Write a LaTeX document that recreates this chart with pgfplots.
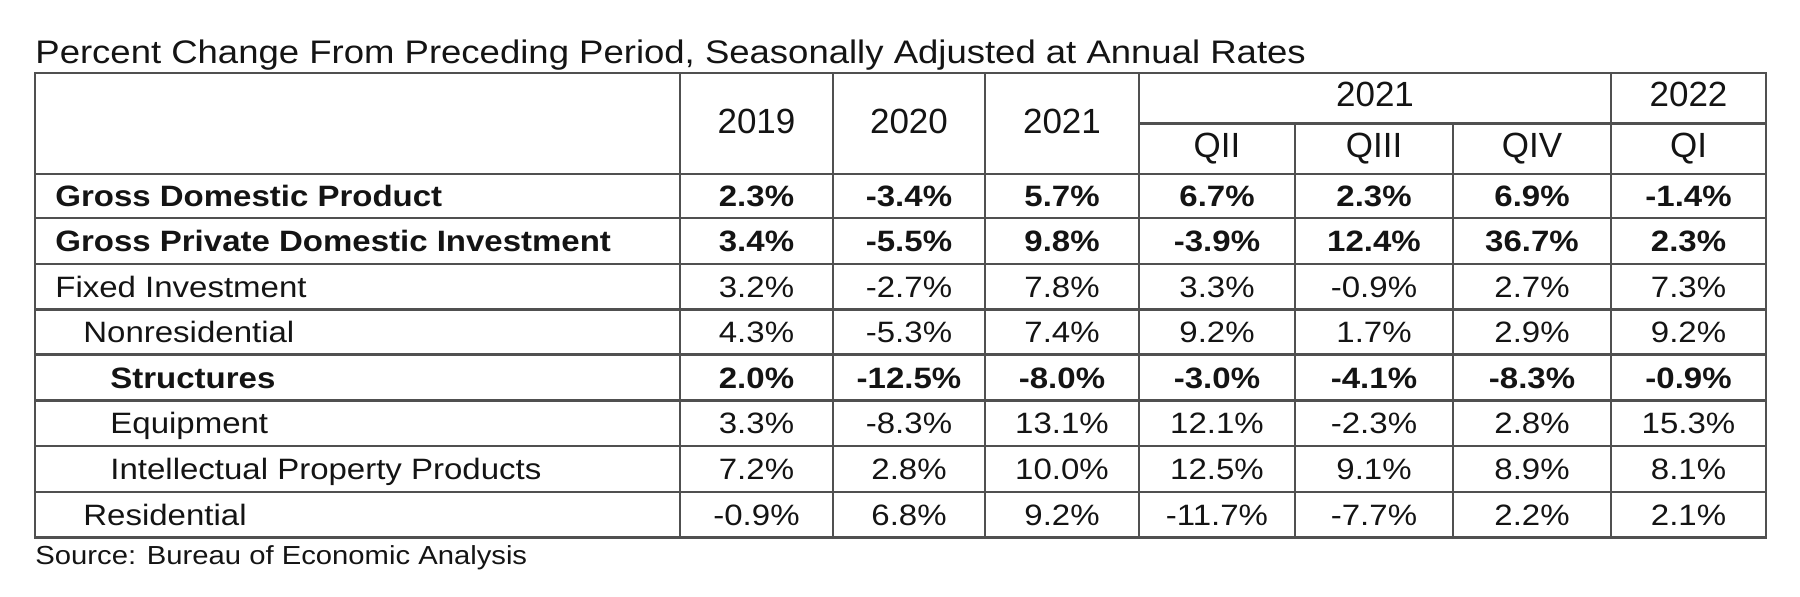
\documentclass[border=0pt]{standalone}
\usepackage{pgfplots}
\pgfplotsset{compat=1.18}
\usepackage{pgfplotstable}
\usepackage{fontspec}
\setmainfont[FakeStretch=1.12]{Liberation Sans}
\newfontfamily\headfam{Liberation Sans}

\definecolor{gridc}{RGB}{80,80,80}
\definecolor{txtc}{RGB}{20,20,20}

\newcommand{\bodyfont}{\fontsize{14.73}{18}\selectfont}
\newcommand{\headfont}{\headfam\fontsize{17.5}{21}\selectfont}
\newcommand{\titlefont}{\fontsize{16.3}{20}\selectfont}
\newcommand{\sourcefont}{\fontsize{13.05}{16}\selectfont}

% rows in bold: y = baseline (pixels from top)
\pgfplotstableread{
y     v1   v2    v3   v4   v5   v6   v7
206.7 2.3  -3.4  5.7  6.7  2.3  6.9  -1.4
251.7 3.4  -5.5  9.8  -3.9 12.4 36.7 2.3
388.2 2.0  -12.5 -8.0 -3.0 -4.1 -8.3 -0.9
}\boldvals

\pgfplotstableread{
y     v1   v2   v3   v4    v5   v6  v7
297.8 3.2  -2.7 7.8  3.3   -0.9 2.7 7.3
342.9 4.3  -5.3 7.4  9.2   1.7  2.9 9.2
434.0 3.3  -8.3 13.1 12.1  -2.3 2.8 15.3
479.7 7.2  2.8  10.0 12.5  9.1  8.9 8.1
525.7 -0.9 6.8  9.2  -11.7 -7.7 2.2 2.1
}\regvals

\pgfplotstableread[col sep=comma]{
x,y,label
55,206.7,Gross Domestic Product
55,251.7,Gross Private Domestic Investment
110,388.2,Structures
}\boldlabels

\pgfplotstableread[col sep=comma]{
x,y,label
55,297.8,Fixed Investment
83,342.9,Nonresidential
110,434.0,Equipment
110,479.7,Intellectual Property Products
83,525.7,Residential
}\reglabels

\pgfplotstableread[col sep=comma]{
x,y,label
756.5,133.3,2019
909,133.3,2020
1062,133.3,2021
1375,107,2021
1688.5,107,2022
1217,157.5,QII
1374,157.5,QIII
1532,157.5,QIV
1688.5,157.5,QI
}\headlabels

\newcommand{\valcols}[2]{%
  \addplot[#2] table[x expr=756.5, y=y, meta=v1]{#1};
  \addplot[#2] table[x expr=909,   y=y, meta=v2]{#1};
  \addplot[#2] table[x expr=1062,  y=y, meta=v3]{#1};
  \addplot[#2] table[x expr=1217,  y=y, meta=v4]{#1};
  \addplot[#2] table[x expr=1374,  y=y, meta=v5]{#1};
  \addplot[#2] table[x expr=1532,  y=y, meta=v6]{#1};
  \addplot[#2] table[x expr=1688.5,y=y, meta=v7]{#1};
}

\begin{document}
\begin{tikzpicture}
\begin{axis}[
  width=900pt, height=298.5pt, scale only axis,
  xmin=0, xmax=1800, ymin=0, ymax=597, y dir=reverse,
  hide axis, clip=false,
  gl/.style={draw=gridc, line width=1.25pt, line cap=rect, mark=none, forget plot},
  txtbase/.style={only marks, mark=none, forget plot, point meta=explicit symbolic},
  valreg/.style={txtbase, nodes near coords={\pgfplotspointmeta\%},
     every node near coord/.append style={anchor=base, inner sep=0pt, text=txtc, font=\bodyfont}},
  valbold/.style={txtbase, nodes near coords={\pgfplotspointmeta\%},
     every node near coord/.append style={anchor=base, inner sep=0pt, text=txtc, font=\bodyfont\bfseries}},
  labreg/.style={txtbase, nodes near coords={\pgfplotspointmeta},
     every node near coord/.append style={anchor=base west, inner sep=0pt, text=txtc, font=\bodyfont}},
  labbold/.style={txtbase, nodes near coords={\pgfplotspointmeta},
     every node near coord/.append style={anchor=base west, inner sep=0pt, text=txtc, font=\bodyfont\bfseries}},
  labhead/.style={txtbase, nodes near coords={\pgfplotspointmeta},
     every node near coord/.append style={anchor=base, inner sep=0pt, text=txtc, font=\headfont}},
]
\path (rel axis cs:0,0) rectangle (rel axis cs:1,1);

% grid lines
\addplot[gl] coordinates {(35,73) (1766,73)};
\addplot[gl] coordinates {(1139,123.3) (1766,123.3)};
\pgfplotsinvokeforeach{174,218,264,309.5,354.5,400.5,446,492,537.5}{
  \addplot[gl] coordinates {(35,#1) (1766,#1)};
}
\pgfplotsinvokeforeach{35,680,833,985,1139,1611,1766}{
  \addplot[gl] coordinates {(#1,73) (#1,537.5)};
}
\pgfplotsinvokeforeach{1295,1453}{
  \addplot[gl] coordinates {(#1,123.3) (#1,537.5)};
}

% header
\addplot[labhead] table[x=x, y=y, meta=label]{\headlabels};
% row labels
\addplot[labbold] table[x=x, y=y, meta=label]{\boldlabels};
\addplot[labreg] table[x=x, y=y, meta=label]{\reglabels};
% values
\valcols{\boldvals}{valbold}
\valcols{\regvals}{valreg}

% title and source
\node[anchor=base west, inner sep=0pt, text=txtc, font=\titlefont] at (axis cs:35,63.3)
  {Percent Change From Preceding Period, Seasonally Adjusted at Annual Rates};
\node[anchor=base west, inner sep=0pt, text=txtc, font=\sourcefont] at (axis cs:35,565)
  {Source: Bureau of Economic Analysis};
\end{axis}
\end{tikzpicture}
\end{document}
